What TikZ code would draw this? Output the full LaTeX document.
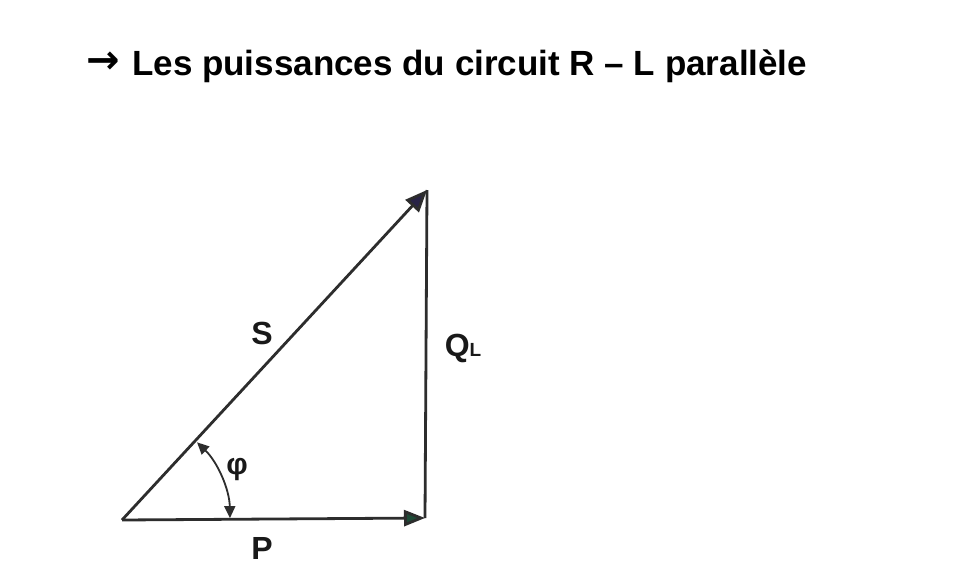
\documentclass[tikz,border=0pt]{standalone}
\usepackage{fontspec}
\setmainfont{Liberation Sans}
\newfontfamily\symfont{DejaVu Sans}
\usetikzlibrary{arrows.meta}
\definecolor{linegray}{RGB}{45,45,45}
\definecolor{tipgreen}{RGB}{30,75,55}
\definecolor{tipnavy}{RGB}{40,35,70}
\begin{document}
\begin{tikzpicture}[x=1pt,y=-1pt,
  vec/.style={draw=linegray,line width=2.8pt},
  lab/.style={font=\fontsize{32}{32}\selectfont\bfseries,inner sep=0pt,text=black!90}]
\useasboundingbox (0,0) rectangle (980,570);
\fill[white] (0,0) rectangle (980,570);
\node[anchor=base west,inner sep=0pt,font=\fontsize{40}{40}\selectfont\symfont\bfseries] (arrow) at (86,73) {→};
\node[anchor=base west,inner sep=0pt,font=\fontsize{35}{35}\selectfont\bfseries] (title) at (132,75) {Les puissances du circuit R – L parallèle};
\coordinate (O) at (122,520);
\coordinate (A) at (425,518);
\coordinate (B) at (427,190);
\draw[vec,-{Triangle[length=21pt,width=16pt,fill=tipgreen]}] (O) -- (A);
\draw[vec] (A) -- (B);
\draw[vec,-{Triangle[length=22pt,width=18pt,fill=tipnavy]}] (O) -- (B);
\draw[linegray,line width=1.8pt,{Triangle[length=12pt,width=11pt]}-{Triangle[length=12pt,width=11pt]}] ([shift={(-46:108)}]O) arc[start angle=-46,end angle=-1,radius=108];
\node[lab] (S) at (262,333) {S};
\node[lab] (Q) at (463,348) {Q\raisebox{0pt}{\fontsize{19}{19}\selectfont L}};
\node[lab,font=\fontsize{30}{30}\selectfont\bfseries] (phi) at (237,470) {φ};
\node[lab] (P) at (262,548) {P};
\end{tikzpicture}
\end{document}
